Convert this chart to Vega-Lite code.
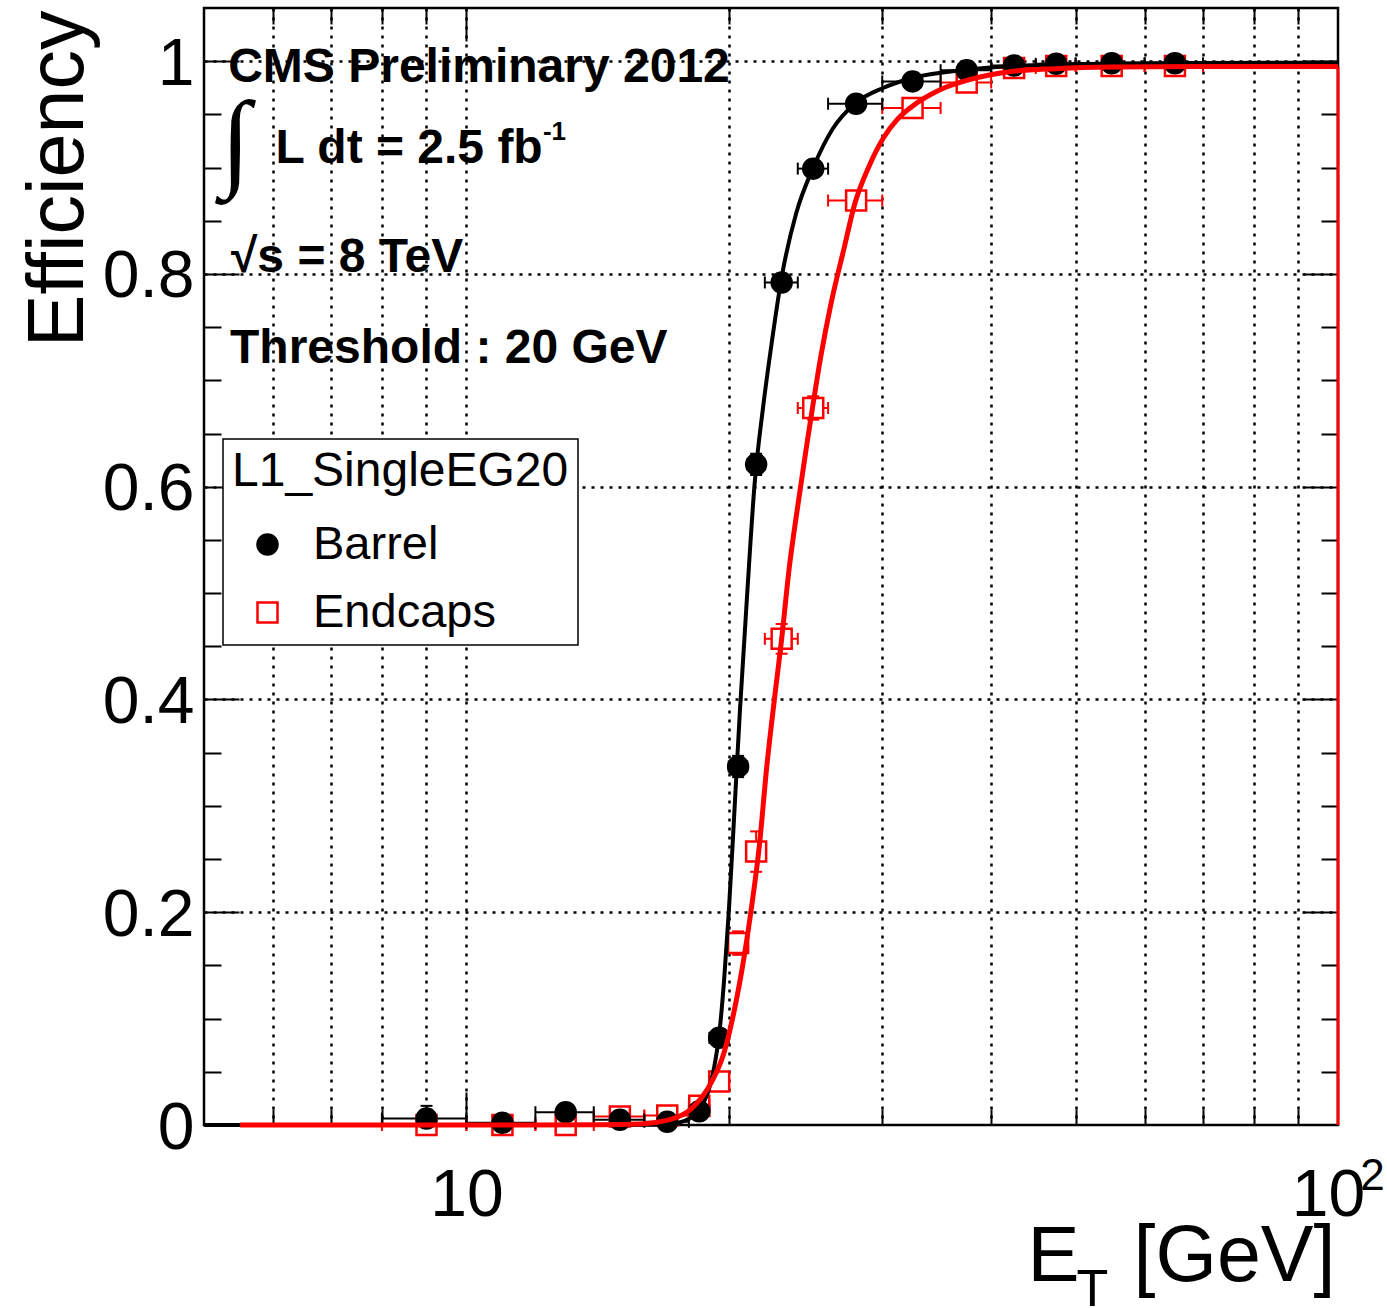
{
  "$schema": "https://vega.github.io/schema/vega-lite/v6.json",
  "width": 1134,
  "height": 1117,
  "autosize": {"type": "none"},
  "padding": {"left": 204, "top": 8, "right": 49, "bottom": 183},
  "background": "white",
  "config": {
    "view": {"stroke": "black", "strokeWidth": 2.5},
    "font": "Liberation Sans",
    "axis": {
      "domain": false, "grid": false,
      "labelFont": "Liberation Sans", "titleFont": "Liberation Sans",
      "labelColor": "black", "titleColor": "black", "titleFontWeight": "normal",
      "tickColor": "black", "tickWidth": 2,
      "gridColor": "black", "gridWidth": 2.5, "gridDash": [3, 6],
      "labelOverlap": false, "labelBound": false, "labelFlush": false
    },
    "legend": {
      "strokeWidth": 1.5, "strokeColor": "black", "fillColor": "white", "padding": 9,
      "titleFont": "Liberation Sans", "titleFontSize": 48, "titleFontWeight": "normal", "titleColor": "black", "titlePadding": 25, "titleLimit": 2000,
      "labelFont": "Liberation Sans", "labelFontSize": 47, "labelColor": "black", "labelLimit": 2000, "symbolSize": 400, "symbolStrokeWidth": 2.5,
      "rowPadding": 20, "symbolOffset": 12, "labelOffset": 22
    }
  },
  "datasets": {
    "pts": [
      {"series": "Endcaps", "et": 9, "lo": 8, "hi": 10, "eff": 0.0, "elo": 0.0, "ehi": 0.003},
      {"series": "Endcaps", "et": 11, "lo": 10, "hi": 12, "eff": 0.0, "elo": 0.0, "ehi": 0.003},
      {"series": "Endcaps", "et": 13, "lo": 12, "hi": 14, "eff": 0.0, "elo": 0.0, "ehi": 0.003},
      {"series": "Endcaps", "et": 15, "lo": 14, "hi": 16, "eff": 0.008, "elo": 0.004, "ehi": 0.012},
      {"series": "Endcaps", "et": 17, "lo": 16, "hi": 18, "eff": 0.009, "elo": 0.005, "ehi": 0.013},
      {"series": "Endcaps", "et": 18.5, "lo": 18, "hi": 19, "eff": 0.018, "elo": 0.012, "ehi": 0.024},
      {"series": "Endcaps", "et": 19.5, "lo": 19, "hi": 20, "eff": 0.041, "elo": 0.033, "ehi": 0.049},
      {"series": "Endcaps", "et": 20.5, "lo": 20, "hi": 21, "eff": 0.171, "elo": 0.16, "ehi": 0.182},
      {"series": "Endcaps", "et": 21.5, "lo": 21, "hi": 22, "eff": 0.257, "elo": 0.238, "ehi": 0.276},
      {"series": "Endcaps", "et": 23, "lo": 22, "hi": 24, "eff": 0.457, "elo": 0.443, "ehi": 0.471},
      {"series": "Endcaps", "et": 25, "lo": 24, "hi": 26, "eff": 0.674, "elo": 0.663, "ehi": 0.685},
      {"series": "Endcaps", "et": 28, "lo": 26, "hi": 30, "eff": 0.869, "elo": 0.861, "ehi": 0.877},
      {"series": "Endcaps", "et": 32.5, "lo": 30, "hi": 35, "eff": 0.956, "elo": 0.951, "ehi": 0.961},
      {"series": "Endcaps", "et": 37.5, "lo": 35, "hi": 40, "eff": 0.98, "elo": 0.976, "ehi": 0.984},
      {"series": "Endcaps", "et": 42.5, "lo": 40, "hi": 45, "eff": 0.9936, "elo": 0.991, "ehi": 0.996},
      {"series": "Endcaps", "et": 47.5, "lo": 45, "hi": 50, "eff": 0.9955, "elo": 0.993, "ehi": 0.998},
      {"series": "Endcaps", "et": 55, "lo": 50, "hi": 60, "eff": 0.9955, "elo": 0.993, "ehi": 0.998},
      {"series": "Endcaps", "et": 65, "lo": 60, "hi": 70, "eff": 0.9955, "elo": 0.993, "ehi": 0.998},
      {"series": "Barrel", "et": 9, "lo": 8, "hi": 10, "eff": 0.006, "elo": 0.002, "ehi": 0.018},
      {"series": "Barrel", "et": 11, "lo": 10, "hi": 12, "eff": 0.002, "elo": 0.0, "ehi": 0.006},
      {"series": "Barrel", "et": 13, "lo": 12, "hi": 14, "eff": 0.012, "elo": 0.006, "ehi": 0.018},
      {"series": "Barrel", "et": 15, "lo": 14, "hi": 16, "eff": 0.005, "elo": 0.002, "ehi": 0.008},
      {"series": "Barrel", "et": 17, "lo": 16, "hi": 18, "eff": 0.003, "elo": 0.001, "ehi": 0.005},
      {"series": "Barrel", "et": 18.5, "lo": 18, "hi": 19, "eff": 0.013, "elo": 0.008, "ehi": 0.018},
      {"series": "Barrel", "et": 19.5, "lo": 19, "hi": 20, "eff": 0.082, "elo": 0.074, "ehi": 0.09},
      {"series": "Barrel", "et": 20.5, "lo": 20, "hi": 21, "eff": 0.337, "elo": 0.327, "ehi": 0.347},
      {"series": "Barrel", "et": 21.5, "lo": 21, "hi": 22, "eff": 0.621, "elo": 0.611, "ehi": 0.631},
      {"series": "Barrel", "et": 23, "lo": 22, "hi": 24, "eff": 0.792, "elo": 0.784, "ehi": 0.8},
      {"series": "Barrel", "et": 25, "lo": 24, "hi": 26, "eff": 0.899, "elo": 0.893, "ehi": 0.905},
      {"series": "Barrel", "et": 28, "lo": 26, "hi": 30, "eff": 0.96, "elo": 0.956, "ehi": 0.964},
      {"series": "Barrel", "et": 32.5, "lo": 30, "hi": 35, "eff": 0.981, "elo": 0.978, "ehi": 0.984},
      {"series": "Barrel", "et": 37.5, "lo": 35, "hi": 40, "eff": 0.9915, "elo": 0.989, "ehi": 0.994},
      {"series": "Barrel", "et": 42.5, "lo": 40, "hi": 45, "eff": 0.996, "elo": 0.994, "ehi": 0.998},
      {"series": "Barrel", "et": 47.5, "lo": 45, "hi": 50, "eff": 0.9975, "elo": 0.996, "ehi": 0.999},
      {"series": "Barrel", "et": 55, "lo": 50, "hi": 60, "eff": 0.998, "elo": 0.997, "ehi": 0.999},
      {"series": "Barrel", "et": 65, "lo": 60, "hi": 70, "eff": 0.998, "elo": 0.997, "ehi": 0.999}
    ],
    "curves": [
      {"series": "Barrel", "x": 5, "y": 0},
      {"series": "Barrel", "x": 10, "y": 0},
      {"series": "Barrel", "x": 15, "y": 0},
      {"series": "Barrel", "x": 16.2, "y": 0.0002},
      {"series": "Barrel", "x": 17.1, "y": 0.001},
      {"series": "Barrel", "x": 17.8, "y": 0.004},
      {"series": "Barrel", "x": 18.4, "y": 0.012},
      {"series": "Barrel", "x": 19.0, "y": 0.035},
      {"series": "Barrel", "x": 19.25, "y": 0.055},
      {"series": "Barrel", "x": 19.5, "y": 0.085},
      {"series": "Barrel", "x": 19.75, "y": 0.135},
      {"series": "Barrel", "x": 20.0, "y": 0.2},
      {"series": "Barrel", "x": 20.27, "y": 0.285},
      {"series": "Barrel", "x": 20.6, "y": 0.39},
      {"series": "Barrel", "x": 21.0, "y": 0.5},
      {"series": "Barrel", "x": 21.4, "y": 0.6},
      {"series": "Barrel", "x": 21.9, "y": 0.675},
      {"series": "Barrel", "x": 22.4, "y": 0.735},
      {"series": "Barrel", "x": 23.0, "y": 0.797},
      {"series": "Barrel", "x": 23.9, "y": 0.857},
      {"series": "Barrel", "x": 25.0, "y": 0.9},
      {"series": "Barrel", "x": 26.3, "y": 0.936},
      {"series": "Barrel", "x": 27.9, "y": 0.96},
      {"series": "Barrel", "x": 30.1, "y": 0.975},
      {"series": "Barrel", "x": 32.4, "y": 0.984},
      {"series": "Barrel", "x": 37.5, "y": 0.992},
      {"series": "Barrel", "x": 42.4, "y": 0.9955},
      {"series": "Barrel", "x": 47.5, "y": 0.997},
      {"series": "Barrel", "x": 55, "y": 0.9978},
      {"series": "Barrel", "x": 69, "y": 0.9983},
      {"series": "Barrel", "x": 100, "y": 0.9986},
      {"series": "Endcaps", "x": 5.5, "y": 0},
      {"series": "Endcaps", "x": 10, "y": 0},
      {"series": "Endcaps", "x": 14.2, "y": 0.0002},
      {"series": "Endcaps", "x": 15.8, "y": 0.001},
      {"series": "Endcaps", "x": 17.1, "y": 0.005},
      {"series": "Endcaps", "x": 18.1, "y": 0.015},
      {"series": "Endcaps", "x": 19.1, "y": 0.04},
      {"series": "Endcaps", "x": 19.75, "y": 0.068},
      {"series": "Endcaps", "x": 20.2, "y": 0.1},
      {"series": "Endcaps", "x": 20.7, "y": 0.145},
      {"series": "Endcaps", "x": 21.2, "y": 0.2},
      {"series": "Endcaps", "x": 21.7, "y": 0.265},
      {"series": "Endcaps", "x": 22.1, "y": 0.335},
      {"series": "Endcaps", "x": 22.6, "y": 0.405},
      {"series": "Endcaps", "x": 23.0, "y": 0.457},
      {"series": "Endcaps", "x": 23.45, "y": 0.522},
      {"series": "Endcaps", "x": 24.0, "y": 0.582},
      {"series": "Endcaps", "x": 24.5, "y": 0.632},
      {"series": "Endcaps", "x": 24.95, "y": 0.674},
      {"series": "Endcaps", "x": 25.5, "y": 0.722},
      {"series": "Endcaps", "x": 26.2, "y": 0.772},
      {"series": "Endcaps", "x": 27.1, "y": 0.823},
      {"series": "Endcaps", "x": 27.9, "y": 0.866},
      {"series": "Endcaps", "x": 29.0, "y": 0.902},
      {"series": "Endcaps", "x": 30.1, "y": 0.928},
      {"series": "Endcaps", "x": 31.2, "y": 0.945},
      {"series": "Endcaps", "x": 32.4, "y": 0.957},
      {"series": "Endcaps", "x": 34.9, "y": 0.973},
      {"series": "Endcaps", "x": 37.5, "y": 0.982},
      {"series": "Endcaps", "x": 39.8, "y": 0.987},
      {"series": "Endcaps", "x": 42.4, "y": 0.9905},
      {"series": "Endcaps", "x": 47.5, "y": 0.993},
      {"series": "Endcaps", "x": 55, "y": 0.9945},
      {"series": "Endcaps", "x": 69, "y": 0.995},
      {"series": "Endcaps", "x": 100, "y": 0.995}
    ]
  },
  "resolve": {"axis": {"x": "independent", "y": "independent"}},
  "layer": [
    {
      "data": {"name": "pts"},
      "mark": {"type": "rule", "strokeWidth": 2},
      "encoding": {
        "x": {"field": "lo", "type": "quantitative", "scale": {"type": "log", "domain": [5, 100], "nice": false},
          "axis": {"orient": "bottom", "values": [6, 7, 8, 9, 10, 20, 30, 40, 50, 60, 70, 80, 90], "labels": false, "title": null, "grid": true, "ticks": true,
            "tickSize": {"condition": {"test": "datum.value == 10", "value": -33}, "value": -16}}},
        "x2": {"field": "hi"},
        "y": {"field": "eff", "type": "quantitative", "scale": {"domain": [0, 1.05], "nice": false, "zero": false},
          "axis": {"orient": "left", "values": [0.05, 0.1, 0.15, 0.2, 0.25, 0.3, 0.35, 0.4, 0.45, 0.5, 0.55, 0.6, 0.65, 0.7, 0.75, 0.8, 0.85, 0.9, 0.95, 1], "labels": false, "title": null, "grid": true, "ticks": true,
            "gridOpacity": {"condition": {"test": "abs(datum.value*5 - round(datum.value*5)) < 0.001", "value": 1}, "value": 0},
            "tickSize": {"condition": {"test": "abs(datum.value*5 - round(datum.value*5)) < 0.001", "value": -35}, "value": -17}}},
        "color": {"field": "series", "type": "nominal", "scale": {"domain": ["Endcaps", "Barrel"], "range": ["#ff0000", "black"]}, "legend": null}
      }
    },
    {
      "data": {"name": "pts"},
      "transform": [{"fold": ["lo", "hi"], "as": ["side", "xv"]}],
      "mark": {"type": "tick", "orient": "vertical", "size": 12, "thickness": 2, "opacity": 1},
      "encoding": {
        "x": {"field": "xv", "type": "quantitative", "scale": {"type": "log", "domain": [5, 100], "nice": false},
          "axis": {"orient": "top", "values": [6, 7, 8, 9, 10, 20, 30, 40, 50, 60, 70, 80, 90], "labels": false, "title": null, "grid": false, "ticks": true,
            "tickSize": {"condition": {"test": "datum.value == 10", "value": -33}, "value": -16}}},
        "y": {"field": "eff", "type": "quantitative", "scale": {"domain": [0, 1.05], "nice": false, "zero": false},
          "axis": {"orient": "right", "values": [0.05, 0.1, 0.15, 0.2, 0.25, 0.3, 0.35, 0.4, 0.45, 0.5, 0.55, 0.6, 0.65, 0.7, 0.75, 0.8, 0.85, 0.9, 0.95, 1], "labels": false, "title": null, "grid": false, "ticks": true,
            "tickSize": {"condition": {"test": "abs(datum.value*5 - round(datum.value*5)) < 0.001", "value": -35}, "value": -17}}},
        "color": {"field": "series", "type": "nominal", "scale": {"domain": ["Endcaps", "Barrel"], "range": ["#ff0000", "black"]}, "legend": null}
      }
    },
    {
      "data": {"name": "pts"},
      "mark": {"type": "rule", "strokeWidth": 2},
      "encoding": {
        "x": {"field": "et", "type": "quantitative", "scale": {"type": "log", "domain": [5, 100], "nice": false},
          "axis": {"orient": "bottom", "values": [100], "labelExpr": "'10'", "labelFontSize": 66, "labelBaseline": "alphabetic", "labelPadding": 90, "labelAlign": "center", "labelOffset": -10,
            "ticks": false, "grid": false, "title": "T", "titleFontSize": 52, "titleX": 872, "titleY": 180, "titleAlign": "left", "titleBaseline": "alphabetic", "titleAngle": 0}},
        "y": {"field": "elo", "type": "quantitative", "scale": {"domain": [0, 1.05], "nice": false, "zero": false}, "axis": null},
        "y2": {"field": "ehi"},
        "color": {"field": "series", "type": "nominal", "scale": {"domain": ["Endcaps", "Barrel"], "range": ["#ff0000", "black"]}, "legend": null}
      }
    },
    {
      "data": {"name": "pts"},
      "transform": [{"fold": ["elo", "ehi"], "as": ["side", "yv"]}],
      "mark": {"type": "tick", "orient": "horizontal", "size": 12, "thickness": 2, "opacity": 1},
      "encoding": {
        "x": {"field": "et", "type": "quantitative", "scale": {"type": "log", "domain": [5, 100], "nice": false},
          "axis": {"orient": "bottom", "values": [100], "labelExpr": "'2'", "labelFontSize": 44, "labelBaseline": "alphabetic", "labelPadding": 64, "labelAlign": "center", "labelOffset": 34,
            "ticks": false, "grid": false, "title": "[GeV]", "titleFontSize": 79, "titleX": 929, "titleY": 155, "titleAlign": "left", "titleBaseline": "alphabetic", "titleAngle": 0}},
        "y": {"field": "yv", "type": "quantitative", "scale": {"domain": [0, 1.05], "nice": false, "zero": false}, "axis": null},
        "color": {"field": "series", "type": "nominal", "scale": {"domain": ["Endcaps", "Barrel"], "range": ["#ff0000", "black"]}, "legend": null}
      }
    },
    {
      "data": {"name": "pts"},
      "mark": {"type": "point", "size": 400, "strokeWidth": 2.5, "opacity": 1},
      "encoding": {
        "x": {"field": "et", "type": "quantitative", "scale": {"type": "log", "domain": [5, 100], "nice": false}, "axis": null},
        "y": {"field": "eff", "type": "quantitative", "scale": {"domain": [0, 1.05], "nice": false, "zero": false}, "axis": null},
        "shape": {"field": "series", "type": "nominal", "scale": {"domain": ["Barrel", "Endcaps"], "range": ["circle", "square"]},
          "legend": {"title": "L1_SingleEG20", "orient": "none", "legendX": 19, "legendY": 431}},
        "fill": {"field": "series", "type": "nominal", "scale": {"domain": ["Barrel", "Endcaps"], "range": ["black", "white"]},
          "legend": {"title": "L1_SingleEG20", "orient": "none", "legendX": 19, "legendY": 431}},
        "stroke": {"field": "series", "type": "nominal", "scale": {"domain": ["Barrel", "Endcaps"], "range": ["black", "#ff0000"]},
          "legend": {"title": "L1_SingleEG20", "orient": "none", "legendX": 19, "legendY": 431}}
      }
    },
    {
      "data": {"name": "curves"},
      "mark": {"type": "line", "interpolate": "monotone"},
      "encoding": {
        "x": {"field": "x", "type": "quantitative", "scale": {"type": "log", "domain": [5, 100], "nice": false},
          "axis": {"orient": "bottom", "values": [10], "ticks": false, "grid": false,
            "labelExpr": "'10'", "labelFontSize": 66, "labelBaseline": "alphabetic", "labelPadding": 90, "labelAlign": "center",
            "title": "E", "titleFontSize": 78, "titleX": 823, "titleY": 155, "titleAlign": "left", "titleBaseline": "alphabetic", "titleAngle": 0}},
        "y": {"field": "y", "type": "quantitative", "scale": {"domain": [0, 1.05], "nice": false, "zero": false},
          "axis": {"orient": "left", "values": [0, 0.2, 0.4, 0.6, 0.8, 1], "format": "~g", "ticks": false, "grid": false,
            "labelFontSize": 66, "labelBaseline": "alphabetic", "labelOffset": 23, "labelPadding": 10, "labelAlign": "right",
            "title": "Efficiency", "titleFontSize": 79, "titleX": -122, "titleY": 2, "titleAngle": 270, "titleAlign": "right", "titleBaseline": "alphabetic"}},
        "color": {"field": "series", "type": "nominal", "scale": {"domain": ["Endcaps", "Barrel"], "range": ["#ff0000", "black"]}, "legend": null},
        "strokeWidth": {"field": "series", "type": "nominal", "scale": {"domain": ["Endcaps", "Barrel"], "range": [5, 4]}, "legend": null}
      }
    },
    {
      "data": {"values": [{}]},
      "mark": {"type": "rule", "color": "#ff0000", "strokeWidth": 3},
      "encoding": {
        "x": {"datum": 100, "type": "quantitative", "scale": {"type": "log", "domain": [5, 100], "nice": false}, "axis": null},
        "y": {"datum": 0, "type": "quantitative", "scale": {"domain": [0, 1.05], "nice": false, "zero": false}, "axis": null},
        "y2": {"datum": 0.995}
      }
    },
    {
      "data": {"values": [{}]},
      "mark": {"type": "text", "text": "CMS Preliminary 2012", "align": "left", "baseline": "alphabetic", "font": "Liberation Sans", "fontWeight": "bold", "fontSize": 48, "fill": "black"},
      "encoding": {
        "x": {"datum": 5.33, "type": "quantitative", "scale": {"type": "log", "domain": [5, 100], "nice": false}, "axis": null},
        "y": {"datum": 0.9805, "type": "quantitative", "scale": {"domain": [0, 1.05], "nice": false, "zero": false}, "axis": null}
      }
    },
    {
      "data": {"values": [{}]},
      "mark": {"type": "text", "text": "∫", "align": "left", "baseline": "alphabetic", "font": "Liberation Serif", "fontWeight": "bold", "fontSize": 108, "fill": "black"},
      "encoding": {
        "x": {"datum": 5.23, "type": "quantitative", "scale": {"type": "log", "domain": [5, 100], "nice": false}, "axis": null},
        "y": {"datum": 0.8921, "type": "quantitative", "scale": {"domain": [0, 1.05], "nice": false, "zero": false}, "axis": null}
      }
    },
    {
      "data": {"values": [{}]},
      "mark": {"type": "text", "text": "L dt = 2.5 fb", "align": "left", "baseline": "alphabetic", "font": "Liberation Sans", "fontWeight": "bold", "fontSize": 48, "fill": "black"},
      "encoding": {
        "x": {"datum": 6.04, "type": "quantitative", "scale": {"type": "log", "domain": [5, 100], "nice": false}, "axis": null},
        "y": {"datum": 0.9043, "type": "quantitative", "scale": {"domain": [0, 1.05], "nice": false, "zero": false}, "axis": null}
      }
    },
    {
      "data": {"values": [{}]},
      "mark": {"type": "text", "text": "-1", "align": "left", "baseline": "alphabetic", "font": "Liberation Sans", "fontWeight": "bold", "fontSize": 26, "fill": "black"},
      "encoding": {
        "x": {"datum": 12.24, "type": "quantitative", "scale": {"type": "log", "domain": [5, 100], "nice": false}, "axis": null},
        "y": {"datum": 0.926, "type": "quantitative", "scale": {"domain": [0, 1.05], "nice": false, "zero": false}, "axis": null}
      }
    },
    {
      "data": {"values": [{}]},
      "mark": {"type": "text", "text": "√s = 8 TeV", "align": "left", "baseline": "alphabetic", "font": "Liberation Sans", "fontWeight": "bold", "fontSize": 48, "fill": "black"},
      "encoding": {
        "x": {"datum": 5.37, "type": "quantitative", "scale": {"type": "log", "domain": [5, 100], "nice": false}, "axis": null},
        "y": {"datum": 0.8018, "type": "quantitative", "scale": {"domain": [0, 1.05], "nice": false, "zero": false}, "axis": null}
      }
    },
    {
      "data": {"values": [{}]},
      "mark": {"type": "text", "text": "Threshold : 20 GeV", "align": "left", "baseline": "alphabetic", "font": "Liberation Sans", "fontWeight": "bold", "fontSize": 48, "fill": "black"},
      "encoding": {
        "x": {"datum": 5.356, "type": "quantitative", "scale": {"type": "log", "domain": [5, 100], "nice": false}, "axis": null},
        "y": {"datum": 0.7163, "type": "quantitative", "scale": {"domain": [0, 1.05], "nice": false, "zero": false}, "axis": null}
      }
    }
  ]
}
